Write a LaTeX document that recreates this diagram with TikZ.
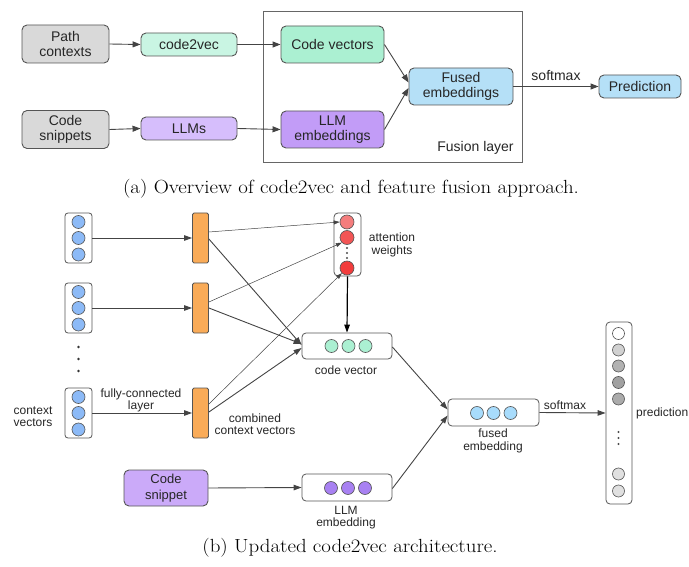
\documentclass[tikz,border=0pt]{standalone}
\usepackage{fontspec}
\newfontfamily\arial{Liberation Sans}
\usetikzlibrary{arrows.meta}
\definecolor{bordc}{HTML}{555555}
\definecolor{arrc}{HTML}{444444}
\definecolor{grayf}{HTML}{D9D9D9}
\definecolor{mintl}{HTML}{C9F5E3}
\definecolor{mint}{HTML}{ABF0D2}
\definecolor{purl}{HTML}{D6BEFC}
\definecolor{pur}{HTML}{C29CF7}
\definecolor{purs}{HTML}{CBAAF9}
\definecolor{bluef}{HTML}{B5E0F7}
\definecolor{ctxb}{HTML}{8CBAF7}
\definecolor{orng}{HTML}{F9AB58}
\definecolor{red1}{HTML}{F47D7D}
\definecolor{red2}{HTML}{F25555}
\definecolor{red3}{HTML}{F23C3C}
\definecolor{fusb}{HTML}{A8DCFC}
\definecolor{llmp}{HTML}{A881F2}
\definecolor{framec}{HTML}{666666}
\tikzset{
  topbox/.style={draw=bordc, line width=0.9pt, rounded corners=5pt, inner sep=0pt, align=center, font=\arial\fontsize{14}{15.5}\selectfont, text=black!85},
  toparr/.style={draw=arrc, line width=0.9pt, -{Triangle[length=8pt,width=6pt]}},
  thinarr/.style={draw=arrc, line width=0.5pt, -{Triangle[length=6pt,width=4pt]}},
  midarr/.style={draw=arrc, line width=0.9pt, -{Triangle[length=8pt,width=5.5pt]}},
  lbl/.style={font=\arial\fontsize{12}{12.5}\selectfont, align=center, inner sep=0pt, text=black!85},
  colbox/.style={draw=bordc, line width=0.8pt, rounded corners=3pt, fill=white, inner sep=0pt, minimum width=27pt, minimum height=50pt},
  vbox/.style={draw=bordc, line width=0.8pt, rounded corners=4pt, fill=white, inner sep=0pt},
  barbox/.style={draw=bordc, line width=0.8pt, rounded corners=1.5pt, fill=orng, inner sep=0pt, minimum width=16pt, minimum height=50pt},
  cdot/.style={circle, draw=bordc, line width=0.6pt, inner sep=0pt, minimum size=13pt},
  pdot/.style={circle, draw=bordc, line width=0.6pt, inner sep=0pt, minimum size=12pt},
  caption/.style={font=\fontsize{19}{21}\selectfont, inner sep=0pt, xscale=1.1, transform shape},
}
\begin{document}
\begin{tikzpicture}[x=1pt,y=-1pt]
\useasboundingbox (0,0) rectangle (689,567);
% ---------- (a) ----------
\draw[framec, line width=1pt] (263,12) rectangle (522,163);
\node[topbox, fill=grayf, minimum width=87pt, minimum height=38pt] (path) at (65.5,44) {Path\\contexts};
\node[topbox, fill=mintl, minimum width=96pt, minimum height=23pt] (c2v) at (189,44.5) {code2vec};
\node[topbox, fill=mint, minimum width=103pt, minimum height=37pt] (cv) at (332.5,44.5) {Code vectors};
\node[topbox, fill=grayf, minimum width=87pt, minimum height=38pt] (snip) at (65.5,129.5) {Code\\snippets};
\node[topbox, fill=purl, minimum width=96pt, minimum height=23pt] (llms) at (189,128.5) {LLMs};
\node[topbox, fill=pur, minimum width=103pt, minimum height=37pt] (llme) at (332.5,129.5) {LLM\\embeddings};
\node[topbox, fill=bluef, minimum width=104pt, minimum height=37pt] (fused) at (461,86.5) {Fused\\embeddings};
\node[topbox, fill=bluef, minimum width=82pt, minimum height=23pt] (pred) at (640,86.5) {Prediction};
\node[font=\arial\fontsize{14}{15.5}\selectfont, inner sep=0pt, text=black!85] (fl) at (475.5,148) {Fusion layer};
\node[font=\arial\fontsize{14}{15.5}\selectfont, inner sep=0pt, text=black!85] (sm1) at (556,76) {softmax};
\draw[toparr] (path.east) -- (c2v.west);
\draw[toparr] (c2v.east) -- (cv.west);
\draw[toparr] (snip.east) -- (llms.west);
\draw[toparr] (llms.east) -- (llme.west);
\draw[toparr] (cv.east) -- ([yshift=4pt]fused.west);
\draw[toparr] (llme.east) -- ([yshift=-1.5pt]fused.west);
\draw[toparr] (fused.east) -- (pred.west);
\node[caption] (capa) at (351,188.5) {(a) Overview of code2vec and feature fusion approach.};
% ---------- (b) ----------
% context columns
\node[colbox] (col1) at (78.5,238) {};
\node[colbox] (col2) at (78.5,308) {};
\node[colbox] (col3) at (78.5,413) {};
\foreach \c/\y in {1/238,2/308,3/413}{
  \node[cdot, fill=ctxb] (c\c a) at (78.5,\y-16) {};
  \node[cdot, fill=ctxb] (c\c b) at (78.5,\y) {};
  \node[cdot, fill=ctxb] (c\c c) at (78.5,\y+16.5) {};
}
\foreach \y in {347,359,371} \fill[black!80] (78.5,\y) circle (1.3pt);
% bars
\node[barbox] (bar1) at (200.5,238) {};
\node[barbox] (bar2) at (200.5,308) {};
\node[barbox] (bar3) at (200.5,413) {};
\draw[midarr] (col1.east) -- (bar1.west);
\draw[midarr] (col2.east) -- (bar2.west);
\draw[midarr] (col3.east) -- (bar3.west);
% attention
\node[vbox, minimum width=27pt, minimum height=63pt] (att) at (347.5,244.5) {};
\node[cdot, fill=red1, minimum size=14pt] (a1) at (347,222) {};
\node[cdot, fill=red2, minimum size=14pt] (a2) at (347,237.5) {};
\node[cdot, fill=red3, minimum size=14pt] (a3) at (347,268) {};
\foreach \y in {248,253,258} \fill[black!70] (347,\y) circle (1.2pt);
\node[lbl] (attl) at (392,245) {attention\\weights};
% code vector
\node[vbox, minimum width=90pt, minimum height=26pt] (cvec) at (347,346) {};
\foreach \i/\x in {1/331.5,2/348.5,3/365.5} \node[cdot, fill=mint] (v\i) at (\x,346) {};
\node[lbl] (cvl) at (346,370) {code vector};
% arrows to attention (thin)
\draw[thinarr] ([yshift=6pt]bar1.east) -- (a1.west);
\draw[thinarr] ([yshift=6pt]bar2.east) -- (a2.south west);
\draw[thinarr] ([yshift=9pt]bar3.east) -- (a3.south west);
% arrows to code vector
\draw[midarr] ([yshift=-1pt]bar1.east) -- ([yshift=1pt]cvec.west);
\draw[midarr] (bar2.east) -- ([yshift=2pt]cvec.west);
\draw[midarr] ([yshift=1pt]bar3.east) -- ([yshift=-2pt]cvec.west);
\draw[black, line width=1.2pt, -{Triangle[length=8pt,width=5.5pt]}] (att.south) -- (cvec.north);
% labels
\node[lbl] (fcl) at (141,400.5) {fully-connected\\layer};
\node[lbl] (ccv) at (255,424) {combined\\context vectors};
\node[lbl] (ctxl) at (33,416.5) {context\\vectors};
% code snippet & llm embedding
\node[topbox, fill=purs, minimum width=84pt, minimum height=36pt, font=\arial\fontsize{13}{15.5}\selectfont] (csn) at (166,488) {Code\\snippet};
\node[vbox, minimum width=90pt, minimum height=27pt] (lemb) at (347,487.5) {};
\foreach \i/\x in {1/331,2/348,3/365} \node[cdot, fill=llmp] (l\i) at (\x,488) {};
\node[lbl] (lembl) at (346,517.5) {LLM\\embedding};
\draw[midarr] (csn.east) -- (lemb.west);
% fused embedding
\node[vbox, minimum width=91pt, minimum height=27pt] (femb) at (493.5,412.5) {};
\foreach \i/\x in {1/477,2/493.5,3/510.5} \node[cdot, fill=fusb] (f\i) at (\x,413) {};
\node[lbl] (fembl) at (493,441) {fused\\embedding};
\draw[midarr] ([yshift=-1pt]cvec.east) -- ([yshift=3pt]femb.west);
\draw[midarr] ([yshift=-1pt]lemb.east) -- ([yshift=-3pt]femb.west);
% prediction
\node[vbox, minimum width=26pt, minimum height=182pt] (pbox) at (619,413) {};
\node[pdot, fill=white] (p1) at (618.5,333.5) {};
\node[pdot, fill=black!18] (p2) at (618.5,350) {};
\node[pdot, fill=black!30] (p3) at (618.5,366) {};
\node[pdot, fill=black!37] (p4) at (618.5,382.5) {};
\node[pdot, fill=black!33] (p5) at (618.5,399) {};
\foreach \y in {432,438,444} \fill[black!70] (618.5,\y) circle (1.1pt);
\node[pdot, fill=black!12] (p6) at (618.5,474) {};
\node[pdot, fill=black!12] (p7) at (618.5,491) {};
\node[lbl, anchor=west] (predl) at (636,413) {prediction};
\node[lbl] (sm2) at (565,405) {softmax};
\draw[midarr] (femb.east) -- (pbox.west);
\node[caption] (capb) at (350,548) {(b) Updated code2vec architecture.};
\end{tikzpicture}
\end{document}
